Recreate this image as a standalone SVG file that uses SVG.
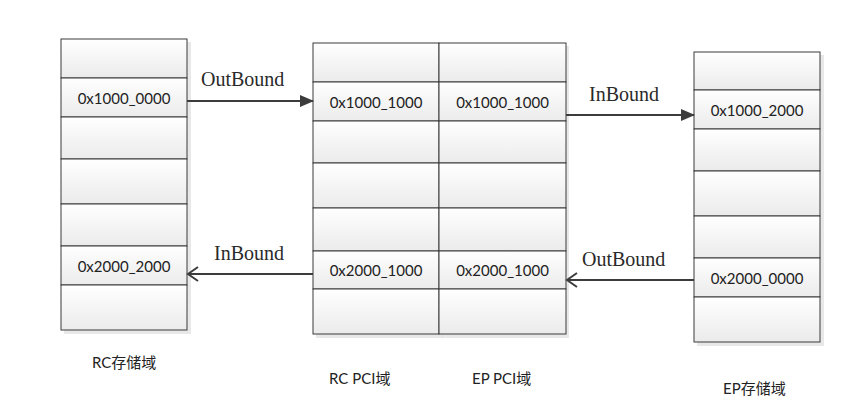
<svg xmlns="http://www.w3.org/2000/svg" width="855" height="409" viewBox="0 0 855 409">
<defs>
<linearGradient id="cg" x1="0" y1="0" x2="0" y2="1">
<stop offset="0" stop-color="#ffffff"/>
<stop offset="1" stop-color="#ebebeb"/>
</linearGradient>
<marker id="fill" markerWidth="14" markerHeight="12" refX="13" refY="6" orient="auto" markerUnits="userSpaceOnUse">
<path d="M0,0 L14,6 L0,12 Z" fill="#3c3c3c"/>
</marker>
<marker id="open" markerWidth="14" markerHeight="16" refX="2" refY="8" orient="auto" markerUnits="userSpaceOnUse">
<path d="M12,1 L2,8 L12,15" fill="none" stroke="#3c3c3c" stroke-width="2"/>
</marker>
</defs>
<style>
.shadow{fill:#d8d8d8;opacity:0.6}
.cell{fill:url(#cg);stroke:#3a3a3a;stroke-width:1}
.ct{font-family:Lato,"Liberation Sans",sans-serif;font-size:15px;fill:#222;text-anchor:middle;dominant-baseline:central}
.lab{font-family:"Liberation Serif","DejaVu Serif",serif;font-size:20px;fill:#2a2a2a}
.cap{font-family:Lato,"Liberation Sans","Noto Sans CJK SC",sans-serif;font-size:15px;fill:#222}
.conn{stroke:#3c3c3c;stroke-width:2;fill:none}
</style>
<rect width="855" height="409" fill="#ffffff"/>

<g id="rc-mem">
<rect class="shadow" x="64" y="42" width="127" height="292"/>
<rect class="cell" x="61" y="39" width="126" height="39"/>
<rect class="cell" x="61" y="78" width="126" height="39"/>
<rect class="cell" x="61" y="117" width="126" height="42"/>
<rect class="cell" x="61" y="159" width="126" height="45"/>
<rect class="cell" x="61" y="204" width="126" height="42"/>
<rect class="cell" x="61" y="246" width="126" height="39"/>
<rect class="cell" x="61" y="285" width="126" height="45"/>
<text class="ct" x="124" y="98">0x1000_0000</text>
<text class="ct" x="124" y="266">0x2000_2000</text>
<text class="cap" x="92" y="368">RC存储域</text>
</g>

<g id="rc-pci">
<rect class="shadow" x="316" y="46" width="127" height="292"/>
<rect class="cell" x="313" y="43" width="126" height="39"/>
<rect class="cell" x="313" y="82" width="126" height="39"/>
<rect class="cell" x="313" y="121" width="126" height="42"/>
<rect class="cell" x="313" y="163" width="126" height="45"/>
<rect class="cell" x="313" y="208" width="126" height="43"/>
<rect class="cell" x="313" y="251" width="126" height="38"/>
<rect class="cell" x="313" y="289" width="126" height="45"/>
<text class="ct" x="376" y="101.5">0x1000_1000</text>
<text class="ct" x="376" y="269.5">0x2000_1000</text>
<text class="cap" x="329" y="384">RC PCI域</text>
</g>

<g id="ep-pci">
<rect class="shadow" x="442" y="46" width="127" height="292"/>
<rect class="cell" x="439" y="43" width="127" height="39"/>
<rect class="cell" x="439" y="82" width="127" height="39"/>
<rect class="cell" x="439" y="121" width="127" height="42"/>
<rect class="cell" x="439" y="163" width="127" height="45"/>
<rect class="cell" x="439" y="208" width="127" height="43"/>
<rect class="cell" x="439" y="251" width="127" height="38"/>
<rect class="cell" x="439" y="289" width="127" height="45"/>
<text class="ct" x="502.5" y="101.5">0x1000_1000</text>
<text class="ct" x="502.5" y="269.5">0x2000_1000</text>
<text class="cap" x="472" y="384">EP PCI域</text>
</g>

<g id="ep-mem">
<rect class="shadow" x="697" y="55" width="127" height="291"/>
<rect class="cell" x="694" y="52" width="126" height="38"/>
<rect class="cell" x="694" y="90" width="126" height="39"/>
<rect class="cell" x="694" y="129" width="126" height="42"/>
<rect class="cell" x="694" y="171" width="126" height="45"/>
<rect class="cell" x="694" y="216" width="126" height="42"/>
<rect class="cell" x="694" y="258" width="126" height="39"/>
<rect class="cell" x="694" y="297" width="126" height="45"/>
<text class="ct" x="757" y="109.5">0x1000_2000</text>
<text class="ct" x="757" y="277.5">0x2000_0000</text>
<text class="cap" x="723" y="394">EP存储域</text>
</g>

<g id="connectors">
<line class="conn" x1="187" y1="101" x2="313" y2="101" marker-end="url(#fill)"/>
<text class="lab" x="201" y="86">OutBound</text>
<line class="conn" x1="566" y1="115" x2="694" y2="115" marker-end="url(#fill)"/>
<text class="lab" x="589" y="101">InBound</text>
<line class="conn" x1="188" y1="274" x2="313" y2="274" marker-start="url(#open)"/>
<text class="lab" x="214" y="260">InBound</text>
<line class="conn" x1="567" y1="280" x2="694" y2="280" marker-start="url(#open)"/>
<text class="lab" x="582" y="266">OutBound</text>
</g>
</svg>
